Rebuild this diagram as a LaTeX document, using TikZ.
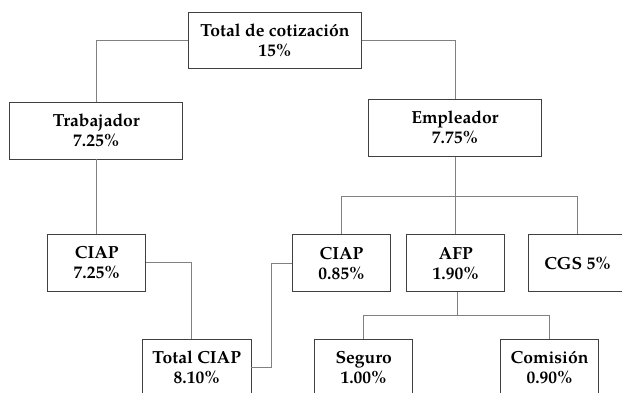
\documentclass[tikz,border=0pt]{standalone}
\usepackage{fontspec}
\setmainfont{TeX Gyre Pagella}
\begin{document}
\begin{tikzpicture}[x=1pt,y=-1pt,
  box/.style={draw=black!75,line width=0.9pt,fill=white,align=center,inner sep=0pt,
    font=\fontsize{17.5}{20}\selectfont\bfseries},
  wide/.style={box,minimum width=173pt,minimum height=56.5pt},
  small/.style={box,minimum width=98pt,minimum height=57.5pt},
  conn/.style={draw=black!50,line width=0.9pt}]
\useasboundingbox (0,0) rectangle (622,392);
\node[wide] (tot) at (275,40.25) {Total de cotización\\15\%};
\node[wide] (trab) at (96.25,130.75) {Trabajador\\7.25\%};
\node[wide] (emp) at (455,127.8) {Empleador\\7.75\%};
\node[small] (ciap1) at (96.8,262.75) {CIAP\\7.25\%};
\node[small] (ciap2) at (341.5,263.15) {CIAP\\0.85\%};
\node[small] (afp) at (455.75,263.15) {AFP\\1.90\%};
\node[small] (cgs) at (577.6,263.15) {CGS 5\%};
\node[small,minimum width=108.5pt] (totciap) at (196.75,367.75) {Total CIAP\\8.10\%};
\node[small] (seguro) at (363.7,367.75) {Seguro\\1.00\%};
\node[small] (comision) at (549.6,367.75) {Comisión\\0.90\%};
\coordinate (bus1) at (455,196.3);
\coordinate (bus2) at (457.5,315.3);
\coordinate (k1) at (191.3,262.75);
\coordinate (k2) at (271.8,367.75);
\draw[conn] (tot.west) -| (trab.north);
\draw[conn] (tot.east) -| (emp.north);
\draw[conn] (ciap1.north |- trab.south) -- (ciap1.north);
\draw[conn] (emp.south) -- (bus1);
\draw[conn] (ciap2.north) |- (bus1) -| (cgs.north);
\draw[conn] (bus1) -- (bus1 |- afp.north);
\draw[conn] (ciap1.east) -- (k1) -- (k1 |- totciap.north);
\draw[conn] (totciap.east) -- (k2) |- (ciap2.west);
\draw[conn] (bus2 |- afp.south) -- (bus2);
\draw[conn] (seguro.north) |- (bus2) -| (comision.north);
\end{tikzpicture}
\end{document}
